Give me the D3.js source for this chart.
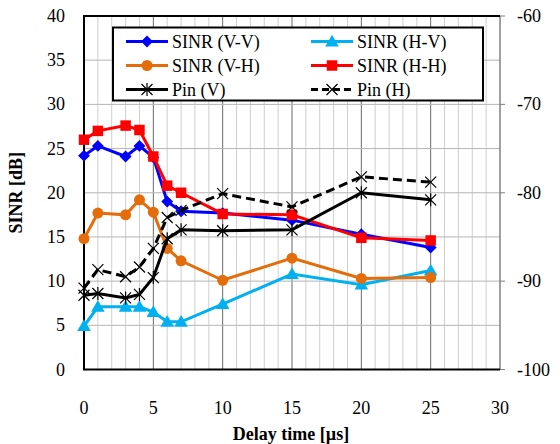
<!DOCTYPE html>
<html>
<head>
<meta charset="utf-8">
<script src="https://cdn.jsdelivr.net/npm/d3@7"></script>
<style>
  body { margin: 0; background: #fff; }
</style>
</head>
<body>
<div id="chart"></div>
<script>
// data
const delay = [0, 1, 3, 4, 5, 6, 7, 10, 15, 20, 25];
const sinrVV = [24.2, 25.3, 24.1, 25.3, 24.0, 19.0, 17.9, 17.7, 16.9, 15.3, 13.8];
const sinrHV = [4.9, 7.1, 7.1, 7.1, 6.5, 5.4, 5.4, 7.4, 10.8, 9.6, 11.2];
const sinrVH = [14.8, 17.7, 17.5, 19.2, 17.8, 13.7, 12.3, 10.1, 12.6, 10.3, 10.4];
const sinrHH = [26.0, 27.0, 27.6, 27.1, 24.1, 20.8, 20.0, 17.6, 17.5, 14.9, 14.6];
const pinV = [-91.6, -91.4, -91.9, -91.5, -89.6, -85.2, -84.2, -84.3, -84.2, -80.0, -80.8];
const pinH = [-90.8, -88.7, -89.5, -88.4, -86.3, -82.8, -82.0, -80.1, -81.6, -78.2, -78.8];

const xTicks = [0, 5, 10, 15, 20, 25, 30];
const yTicks = [0, 5, 10, 15, 20, 25, 30, 35, 40];
const y2Ticks = [-100, -90, -80, -70, -60];

const width = 560, height = 444;
const pLeft = 84, pRight = 500, pTop = 16, pBottom = 369.5;
const serif = "Times New Roman, Liberation Serif, Tinos, DejaVu Serif, Noto Serif, serif";

const x = d3.scaleLinear().domain([0, 30]).range([pLeft, pRight]);
const y = d3.scaleLinear().domain([0, 40]).range([pBottom, pTop]);
const y2 = d3.scaleLinear().domain([-100, -60]).range([pBottom, pTop]);

const svg = d3.select("#chart").append("svg")
    .attr("width", width)
    .attr("height", height)
    .attr("font-family", serif);

// gridlines
const grid = svg.append("g");
grid.selectAll(".vminor")
    .data(d3.range(1, 30).filter(v => v % 5 !== 0))
    .enter().append("line")
    .attr("x1", d => x(d)).attr("x2", d => x(d))
    .attr("y1", pTop).attr("y2", pBottom)
    .style("stroke", "#cfcfcf").style("stroke-width", 1);
grid.selectAll(".vmajor")
    .data([5, 10, 15, 20, 25])
    .enter().append("line")
    .attr("x1", d => x(d)).attr("x2", d => x(d))
    .attr("y1", pTop).attr("y2", pBottom)
    .style("stroke", "#6a6a6a").style("stroke-width", 1);
grid.selectAll(".hgrid")
    .data(yTicks.slice(1))
    .enter().append("line")
    .attr("x1", pLeft).attr("x2", pRight)
    .attr("y1", d => y(d)).attr("y2", d => y(d))
    .style("stroke", "#b5b5b5").style("stroke-width", 1);

// right axis (gray) with outer ticks
svg.append("line")
    .attr("x1", pRight).attr("x2", pRight).attr("y1", pTop).attr("y2", pBottom)
    .style("stroke", "#808080").style("stroke-width", 1.5);
svg.selectAll(".rtick")
    .data(y2Ticks)
    .enter().append("line")
    .attr("x1", pRight).attr("x2", pRight + 5)
    .attr("y1", d => y2(d)).attr("y2", d => y2(d))
    .style("stroke", "#808080").style("stroke-width", 1);

// frame: left, bottom, top in black
svg.append("path")
    .attr("d", `M${pRight},${pTop}H${pLeft}V${pBottom}H${pRight}`)
    .style("fill", "none").style("stroke", "#000").style("stroke-width", 2);

// tick labels
svg.selectAll(".ylab")
    .data(yTicks)
    .enter().append("text")
    .attr("x", 65).attr("y", d => y(d) + 6)
    .attr("text-anchor", "end")
    .attr("font-size", 18)
    .text(d => d);
svg.selectAll(".y2lab")
    .data(y2Ticks)
    .enter().append("text")
    .attr("x", 517).attr("y", d => y2(d) + 6)
    .attr("font-size", 18)
    .text(d => d);
svg.selectAll(".xlab")
    .data(xTicks)
    .enter().append("text")
    .attr("x", d => x(d)).attr("y", 414)
    .attr("text-anchor", "middle")
    .attr("font-size", 18)
    .text(d => d);

// axis titles
svg.append("text")
    .attr("x", 291).attr("y", 440)
    .attr("text-anchor", "middle")
    .attr("font-size", 18).attr("font-weight", "bold")
    .text("Delay time [µs]");
svg.append("text")
    .attr("transform", `translate(22, ${(pTop + pBottom) / 2}) rotate(-90)`)
    .attr("text-anchor", "middle")
    .attr("font-size", 18).attr("font-weight", "bold")
    .text("SINR [dB]");

// marker drawing
function marker(g, type, color, cx, cy) {
    if (type === "asterisk" || type === "cross") {
        const r = 5.5;
        let d = `M${cx - r},${cy - r}L${cx + r},${cy + r}M${cx - r},${cy + r}L${cx + r},${cy - r}`;
        if (type === "asterisk") d += `M${cx},${cy - r - 1}V${cy + r + 1}`;
        g.append("path").attr("d", d)
            .style("stroke", color).style("stroke-width", 1.2).style("fill", "none");
        return;
    }
    const sym = {
        diamond: d3.symbolDiamond2, circle: d3.symbolCircle,
        square: d3.symbolSquare, triangle: d3.symbolTriangle
    }[type];
    const size = { diamond: 90, circle: 95, square: 110, triangle: 80 }[type];
    const dy = type === "triangle" ? 1 : 0;
    g.append("path")
        .attr("d", d3.symbol().type(sym).size(size)())
        .attr("transform", `translate(${cx}, ${cy + dy})`)
        .style("fill", color);
}

const series = [
    { name: "SINR (V-V)", values: sinrVV, axis: y, color: "#0000ff", mark: "diamond", dash: null },
    { name: "SINR (H-V)", values: sinrHV, axis: y, color: "#00b0f0", mark: "triangle", dash: null },
    { name: "SINR (V-H)", values: sinrVH, axis: y, color: "#e46c0a", mark: "circle", dash: null },
    { name: "SINR (H-H)", values: sinrHH, axis: y, color: "#ff0000", mark: "square", dash: null },
    { name: "Pin (V)", values: pinV, axis: y2, color: "#000000", mark: "asterisk", dash: null },
    { name: "Pin (H)", values: pinH, axis: y2, color: "#000000", mark: "cross", dash: "9,5" }
];

const plot = svg.append("g");
series.forEach(s => {
    const pts = delay.map((d, i) => [x(d), s.axis(s.values[i])]);
    const g = plot.append("g");
    g.append("path")
        .attr("d", d3.line()(pts))
        .style("fill", "none")
        .style("stroke", s.color)
        .style("stroke-width", 3)
        .style("stroke-dasharray", s.dash);
    pts.forEach(p => marker(g, s.mark, s.color, p[0], p[1]));
});

// legend
const lg = svg.append("g");
lg.append("rect")
    .attr("x", 113).attr("y", 27.5)
    .attr("width", 370).attr("height", 73)
    .style("fill", "#fff").style("stroke", "#000").style("stroke-width", 2);
series.forEach((s, i) => {
    const col = i % 2, row = Math.floor(i / 2);
    const x0 = col === 0 ? 126 : 311;
    const cy = 41.5 + row * 24;
    lg.append("line")
        .attr("x1", x0).attr("x2", x0 + 42)
        .attr("y1", cy).attr("y2", cy)
        .style("stroke", s.color).style("stroke-width", 3)
        .style("stroke-dasharray", s.dash ? "7,4" : null);
    marker(lg, s.mark, s.color, x0 + 21, cy);
    lg.append("text")
        .attr("x", x0 + 46).attr("y", cy + 6)
        .attr("font-size", 18)
        .text(s.name);
});
</script>
</body>
</html>
